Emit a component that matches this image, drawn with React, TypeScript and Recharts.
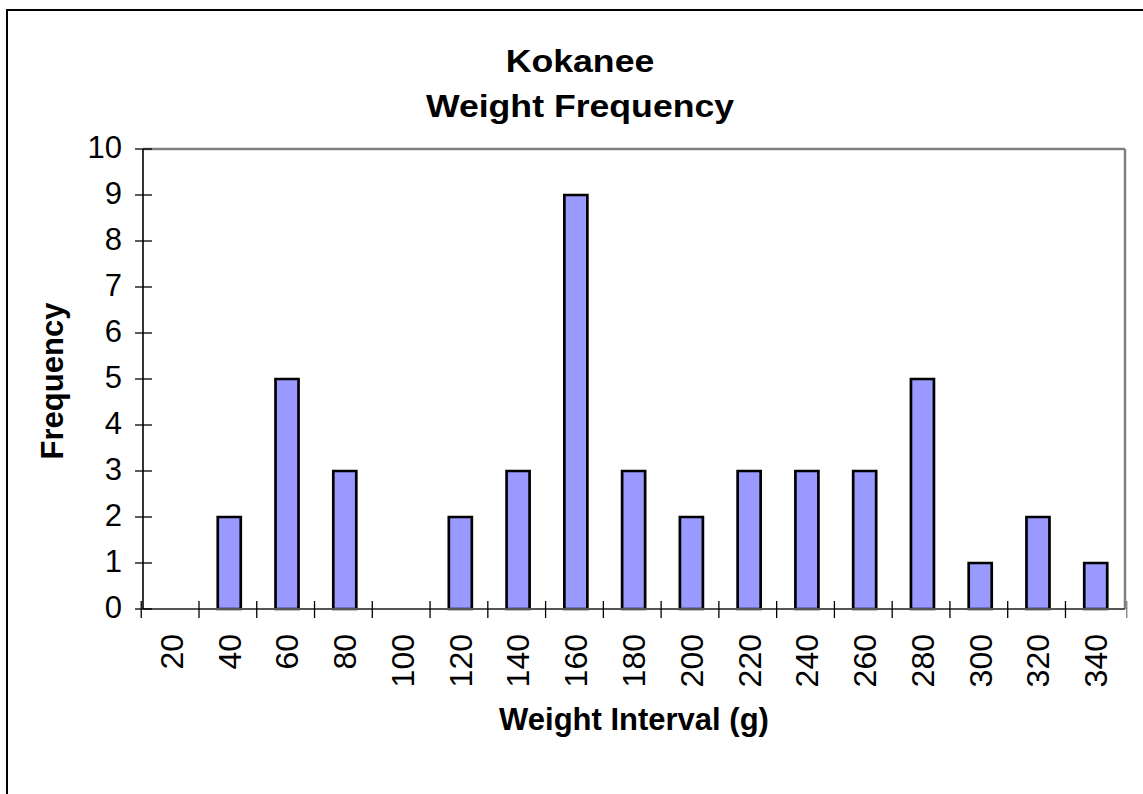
import { BarChart, Bar, XAxis, YAxis, ReferenceLine, Label } from 'recharts';

// weight interval (g) -> number of fish
const intervals = ['20', '40', '60', '80', '100', '120', '140', '160', '180', '200', '220', '240', '260', '280', '300', '320', '340'];
const frequency = [0, 2, 5, 3, 0, 2, 3, 9, 3, 2, 3, 3, 3, 5, 1, 2, 1];
const yTicks = [0, 1, 2, 3, 4, 5, 6, 7, 8, 9, 10];
const titleLines = ['Kokanee', 'Weight Frequency'];

const data = intervals.map((w, i) => ({ weight: w, freq: frequency[i] }));

const W = 1143;
const H = 794;
const margin = { top: 149, right: 18, bottom: 155, left: 83 };
const plotWidth = W - margin.left - margin.right - 0;
const band = plotWidth / intervals.length;
const font = '"Liberation Sans", Arial, sans-serif';

function YTick({ x, y, payload }: any) {
  return (
    <g>
      <line x1={x - 8} x2={x + 9} y1={y} y2={y} stroke="#000" strokeWidth={1.3} />
      <text x={x - 21} y={y - 2} textAnchor="end" dominantBaseline="central" fontSize={31} fontFamily={font} fill="#000">
        {payload.value}
      </text>
    </g>
  );
}

function XTick({ x, y, payload, index }: any) {
  const ty = y + 25;
  return (
    <g>
      <line x1={x - band / 2} x2={x - band / 2} y1={y - 8} y2={y + 9} stroke="#000" strokeWidth={1.3} />
      {index === intervals.length - 1 && (
        <line x1={x + band / 2} x2={x + band / 2} y1={y - 8} y2={y + 9} stroke="#808080" strokeWidth={1.3} />
      )}
      <text
        x={x}
        y={ty}
        transform={`rotate(-90 ${x} ${ty})`}
        textAnchor="end"
        dominantBaseline="central"
        fontSize={32}
        fontFamily={font}
        fill="#000"
      >
        {payload.value}
      </text>
    </g>
  );
}

export default function App() {
  return (
    <div style={{ position: 'absolute', left: 0, top: 0, width: W, height: H, background: '#fff' }}>
      {/* chart frame: only top and left edges are visible */}
      <div style={{ position: 'absolute', left: 6, top: 9, width: W, height: H, borderTop: '2px solid #000', borderLeft: '2px solid #000' }} />
      <BarChart width={W} height={H} data={data} margin={margin} style={{ position: 'absolute', left: 0, top: 0 }}>
        <XAxis
          dataKey="weight"
          interval={0}
          height={30}
          tickSize={0}
          tickMargin={0}
          tickLine={false}
          tick={<XTick />}
          axisLine={{ stroke: '#555', strokeWidth: 2 }}
        >
          <Label
            content={({ viewBox }: any) => (
              <text
                x={viewBox.x + viewBox.width / 2}
                y={viewBox.y + 121}
                textAnchor="middle"
                fontSize={31}
                fontWeight="bold"
                fontFamily={font}
                fill="#000"
              >
                Weight Interval (g)
              </text>
            )}
          />
        </XAxis>
        <YAxis
          domain={[0, 10]}
          ticks={yTicks}
          width={60}
          tickSize={0}
          tickMargin={0}
          tickLine={false}
          tick={<YTick />}
          axisLine={{ stroke: '#000', strokeWidth: 1.6 }}
        >
          <Label
            content={({ viewBox }: any) => {
              const cx = viewBox.x - 20;
              const cy = viewBox.y + viewBox.height / 2 + 2;
              return (
                <text
                  x={cx}
                  y={cy}
                  transform={`rotate(-90 ${cx} ${cy})`}
                  textAnchor="middle"
                  fontSize={31}
                  fontWeight="bold"
                  fontFamily={font}
                  fill="#000"
                >
                  Frequency
                </text>
              );
            }}
          />
        </YAxis>
        <ReferenceLine y={10} stroke="#808080" strokeWidth={2.5} />
        <ReferenceLine x="340" position="end" stroke="#808080" strokeWidth={2.5} />
        <Bar dataKey="freq" fill="#9999FF" stroke="#000" strokeWidth={2.7} barSize={23} isAnimationActive={false} />
      </BarChart>
      <svg width={W} height={H} style={{ position: 'absolute', left: 0, top: 0, pointerEvents: 'none' }}>
        {titleLines.map((t, i) => (
          <text
            key={t}
            x={0}
            y={0}
            transform={`translate(580 ${72 + i * 45}) scale(1.15 1)`}
            textAnchor="middle"
            fontSize={31}
            fontWeight="bold"
            fontFamily={font}
            fill="#000"
          >
            {t}
          </text>
        ))}
      </svg>
    </div>
  );
}
